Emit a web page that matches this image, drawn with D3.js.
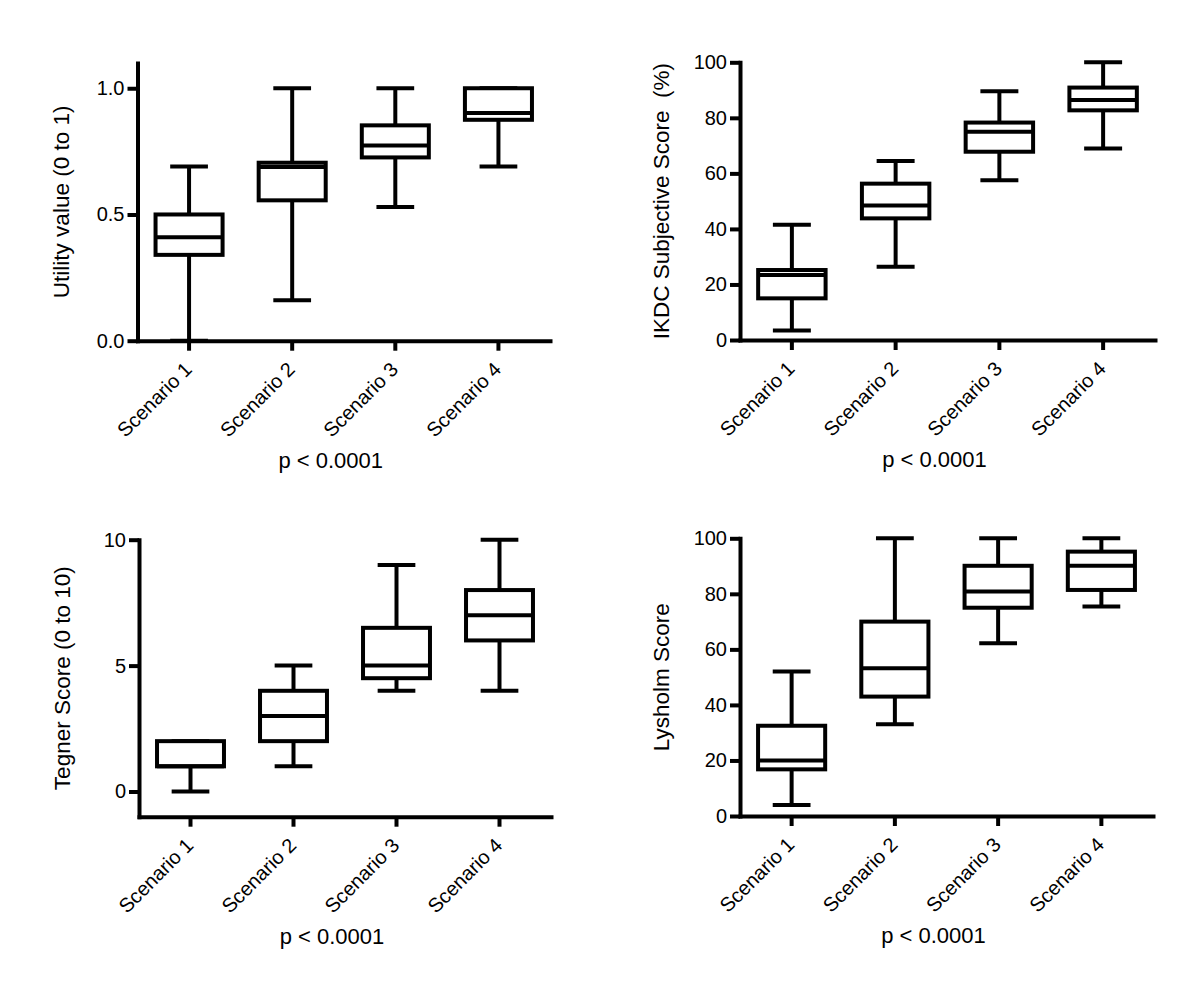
<!DOCTYPE html>
<html>
<head>
<meta charset="utf-8">
<script src="https://cdn.jsdelivr.net/npm/d3@7"></script>
<style>
  html, body { margin: 0; padding: 0; background: #fff; }
  svg { display: block; }
  text { font-family: "Liberation Sans", Arial, Helvetica, sans-serif; fill: #000; }
</style>
</head>
<body>
<svg id="chart" width="1200" height="998"></svg>
<script>
// ---------------- data ----------------
const scenarios = ["Scenario 1", "Scenario 2", "Scenario 3", "Scenario 4"];
const pValueText = "p < 0.0001";

// Utility value (0 to 1)
const utilityMin    = [0.00, 0.16, 0.53, 0.69];
const utilityQ1     = [0.34, 0.556, 0.726, 0.875];
const utilityMedian = [0.41, 0.688, 0.773, 0.902];
const utilityQ3     = [0.50, 0.705, 0.853, 1.00];
const utilityMax    = [0.69, 1.00, 1.00, 1.00];
const utilityTicks  = [0, 0.5, 1.0];

// IKDC Subjective Score (%)
const ikdcMin    = [3.4, 26.4, 57.5, 69.0];
const ikdcQ1     = [15.0, 43.8, 67.8, 82.7];
const ikdcMedian = [23.4, 48.4, 75.0, 86.4];
const ikdcQ3     = [25.2, 56.3, 78.3, 90.9];
const ikdcMax    = [41.5, 64.5, 89.6, 100];
const ikdcTicks  = [0, 20, 40, 60, 80, 100];

// Tegner Score (0 to 10)
const tegnerMin    = [0, 1, 4, 4];
const tegnerQ1     = [1, 2, 4.5, 6];
const tegnerMedian = [1, 3, 5, 7];
const tegnerQ3     = [2, 4, 6.5, 8];
const tegnerMax    = [2, 5, 9, 10];
const tegnerTicks  = [0, 5, 10];

// Lysholm Score
const lysholmMin    = [4.0, 33.0, 62.2, 75.4];
const lysholmQ1     = [16.8, 43.0, 75.0, 81.4];
const lysholmMedian = [20.0, 53.2, 80.8, 90.1];
const lysholmQ3     = [32.5, 70.0, 90.1, 95.2];
const lysholmMax    = [52.0, 100, 100, 100];
const lysholmTicks  = [0, 20, 40, 60, 80, 100];

// ---------------- panels ----------------
const panels = [
  { label: "Utility value (0 to 1)", min: utilityMin, q1: utilityQ1, med: utilityMedian, q3: utilityQ3, max: utilityMax,
    ticks: utilityTicks, fmt: d3.format(".1f"), domain: [0, 1.1],
    x0: 137.5, x1: 550, yBottom: 340.7, yTop: 63, labelOff: 68.5 },
  { label: "IKDC Subjective Score  (%)", min: ikdcMin, q1: ikdcQ1, med: ikdcMedian, q3: ikdcQ3, max: ikdcMax,
    ticks: ikdcTicks, fmt: d3.format("d"), domain: [0, 100],
    x0: 740, x1: 1155, yBottom: 340, yTop: 62.3, labelOff: 71.5 },
  { label: "Tegner Score (0 to 10)", min: tegnerMin, q1: tegnerQ1, med: tegnerMedian, q3: tegnerQ3, max: tegnerMax,
    ticks: tegnerTicks, fmt: d3.format("d"), domain: [-1, 10],
    x0: 139, x1: 551, yBottom: 816.7, yTop: 539.7, labelOff: 68.6 },
  { label: "Lysholm Score", min: lysholmMin, q1: lysholmQ1, med: lysholmMedian, q3: lysholmQ3, max: lysholmMax,
    ticks: lysholmTicks, fmt: d3.format("d"), domain: [0, 100],
    x0: 740, x1: 1153, yBottom: 816, yTop: 538.3, labelOff: 71.3 }
];

const svg = d3.select("#chart");
svg.append("rect").attr("width", 1200).attr("height", 998).attr("fill", "#fff");

const SW = 4;

panels.forEach(p => {
  const g = svg.append("g");
  const x = d3.scaleBand().domain(scenarios).range([p.x0, p.x1]).paddingInner(0).paddingOuter(0);
  const y = d3.scaleLinear().domain(p.domain).range([p.yBottom, p.yTop]);
  const bw = x.bandwidth();
  const boxW = bw * 0.65;
  const capW = bw * 0.366;

  const rows = scenarios.map((s, i) => ({ s, min: p.min[i], q1: p.q1[i], med: p.med[i], q3: p.q3[i], max: p.max[i] }));

  // Axes
  const yAxis = g.append("g")
    .attr("transform", `translate(${p.x0},0)`)
    .call(d3.axisLeft(y).tickValues(p.ticks).tickFormat(p.fmt).tickSize(10).tickSizeOuter(0).tickPadding(3));
  yAxis.attr("font-size", null).attr("font-family", null);
  yAxis.select(".domain").attr("stroke-width", SW).attr("stroke-linecap", "square");
  yAxis.selectAll(".tick line").attr("stroke-width", SW);
  yAxis.selectAll("text").style("font-size", "20px");

  const xAxis = g.append("g")
    .attr("transform", `translate(0,${p.yBottom})`)
    .call(d3.axisBottom(x).tickSize(10).tickSizeOuter(0));
  xAxis.attr("font-size", null).attr("font-family", null);
  xAxis.select(".domain").attr("stroke-width", SW).attr("stroke-linecap", "square");
  xAxis.selectAll(".tick line").attr("stroke-width", SW);
  xAxis.selectAll("text")
    .style("font-size", "20px")
    .attr("text-anchor", "end")
    .attr("x", 0).attr("y", 0).attr("dy", null)
    .attr("transform", "translate(4,30) rotate(-45)");
  g.selectAll(".domain, .tick line").attr("stroke", "#000");

  // Whiskers
  const bx = g.append("g").attr("fill", "none").attr("stroke", "#000").attr("stroke-width", SW);
  bx.selectAll("line.wu").data(rows).join("line").attr("class", "wu")
    .attr("x1", d => x(d.s) + bw / 2).attr("x2", d => x(d.s) + bw / 2)
    .attr("y1", d => y(d.q3)).attr("y2", d => y(d.max));
  bx.selectAll("line.wl").data(rows).join("line").attr("class", "wl")
    .attr("x1", d => x(d.s) + bw / 2).attr("x2", d => x(d.s) + bw / 2)
    .attr("y1", d => y(d.q1)).attr("y2", d => y(d.min));
  bx.selectAll("line.cu").data(rows).join("line").attr("class", "cu")
    .attr("x1", d => x(d.s) + bw / 2 - capW / 2).attr("x2", d => x(d.s) + bw / 2 + capW / 2)
    .attr("y1", d => y(d.max)).attr("y2", d => y(d.max));
  bx.selectAll("line.cl").data(rows).join("line").attr("class", "cl")
    .attr("x1", d => x(d.s) + bw / 2 - capW / 2).attr("x2", d => x(d.s) + bw / 2 + capW / 2)
    .attr("y1", d => y(d.min)).attr("y2", d => y(d.min));
  // Boxes
  bx.selectAll("rect.box").data(rows).join("rect").attr("class", "box")
    .attr("fill", "#fff")
    .attr("x", d => x(d.s) + bw / 2 - boxW / 2).attr("width", boxW)
    .attr("y", d => y(d.q3)).attr("height", d => y(d.q1) - y(d.q3));
  // Medians
  bx.selectAll("line.med").data(rows).join("line").attr("class", "med")
    .attr("x1", d => x(d.s) + bw / 2 - boxW / 2).attr("x2", d => x(d.s) + bw / 2 + boxW / 2)
    .attr("y1", d => y(d.med)).attr("y2", d => y(d.med));

  // Y label
  g.append("text")
    .attr("transform", `translate(${p.x0 - p.labelOff},${(p.yBottom + p.yTop) / 2}) rotate(-90)`)
    .attr("text-anchor", "middle")
    .style("font-size", "22.5px")
    .style("white-space", "pre")
    .text(p.label);

  // p-value
  g.append("text")
    .attr("x", (p.x0 + p.x1) / 2 - 13)
    .attr("y", p.yBottom + 127)
    .attr("text-anchor", "middle")
    .style("font-size", "22px")
    .text(pValueText);
});
</script>
</body>
</html>
